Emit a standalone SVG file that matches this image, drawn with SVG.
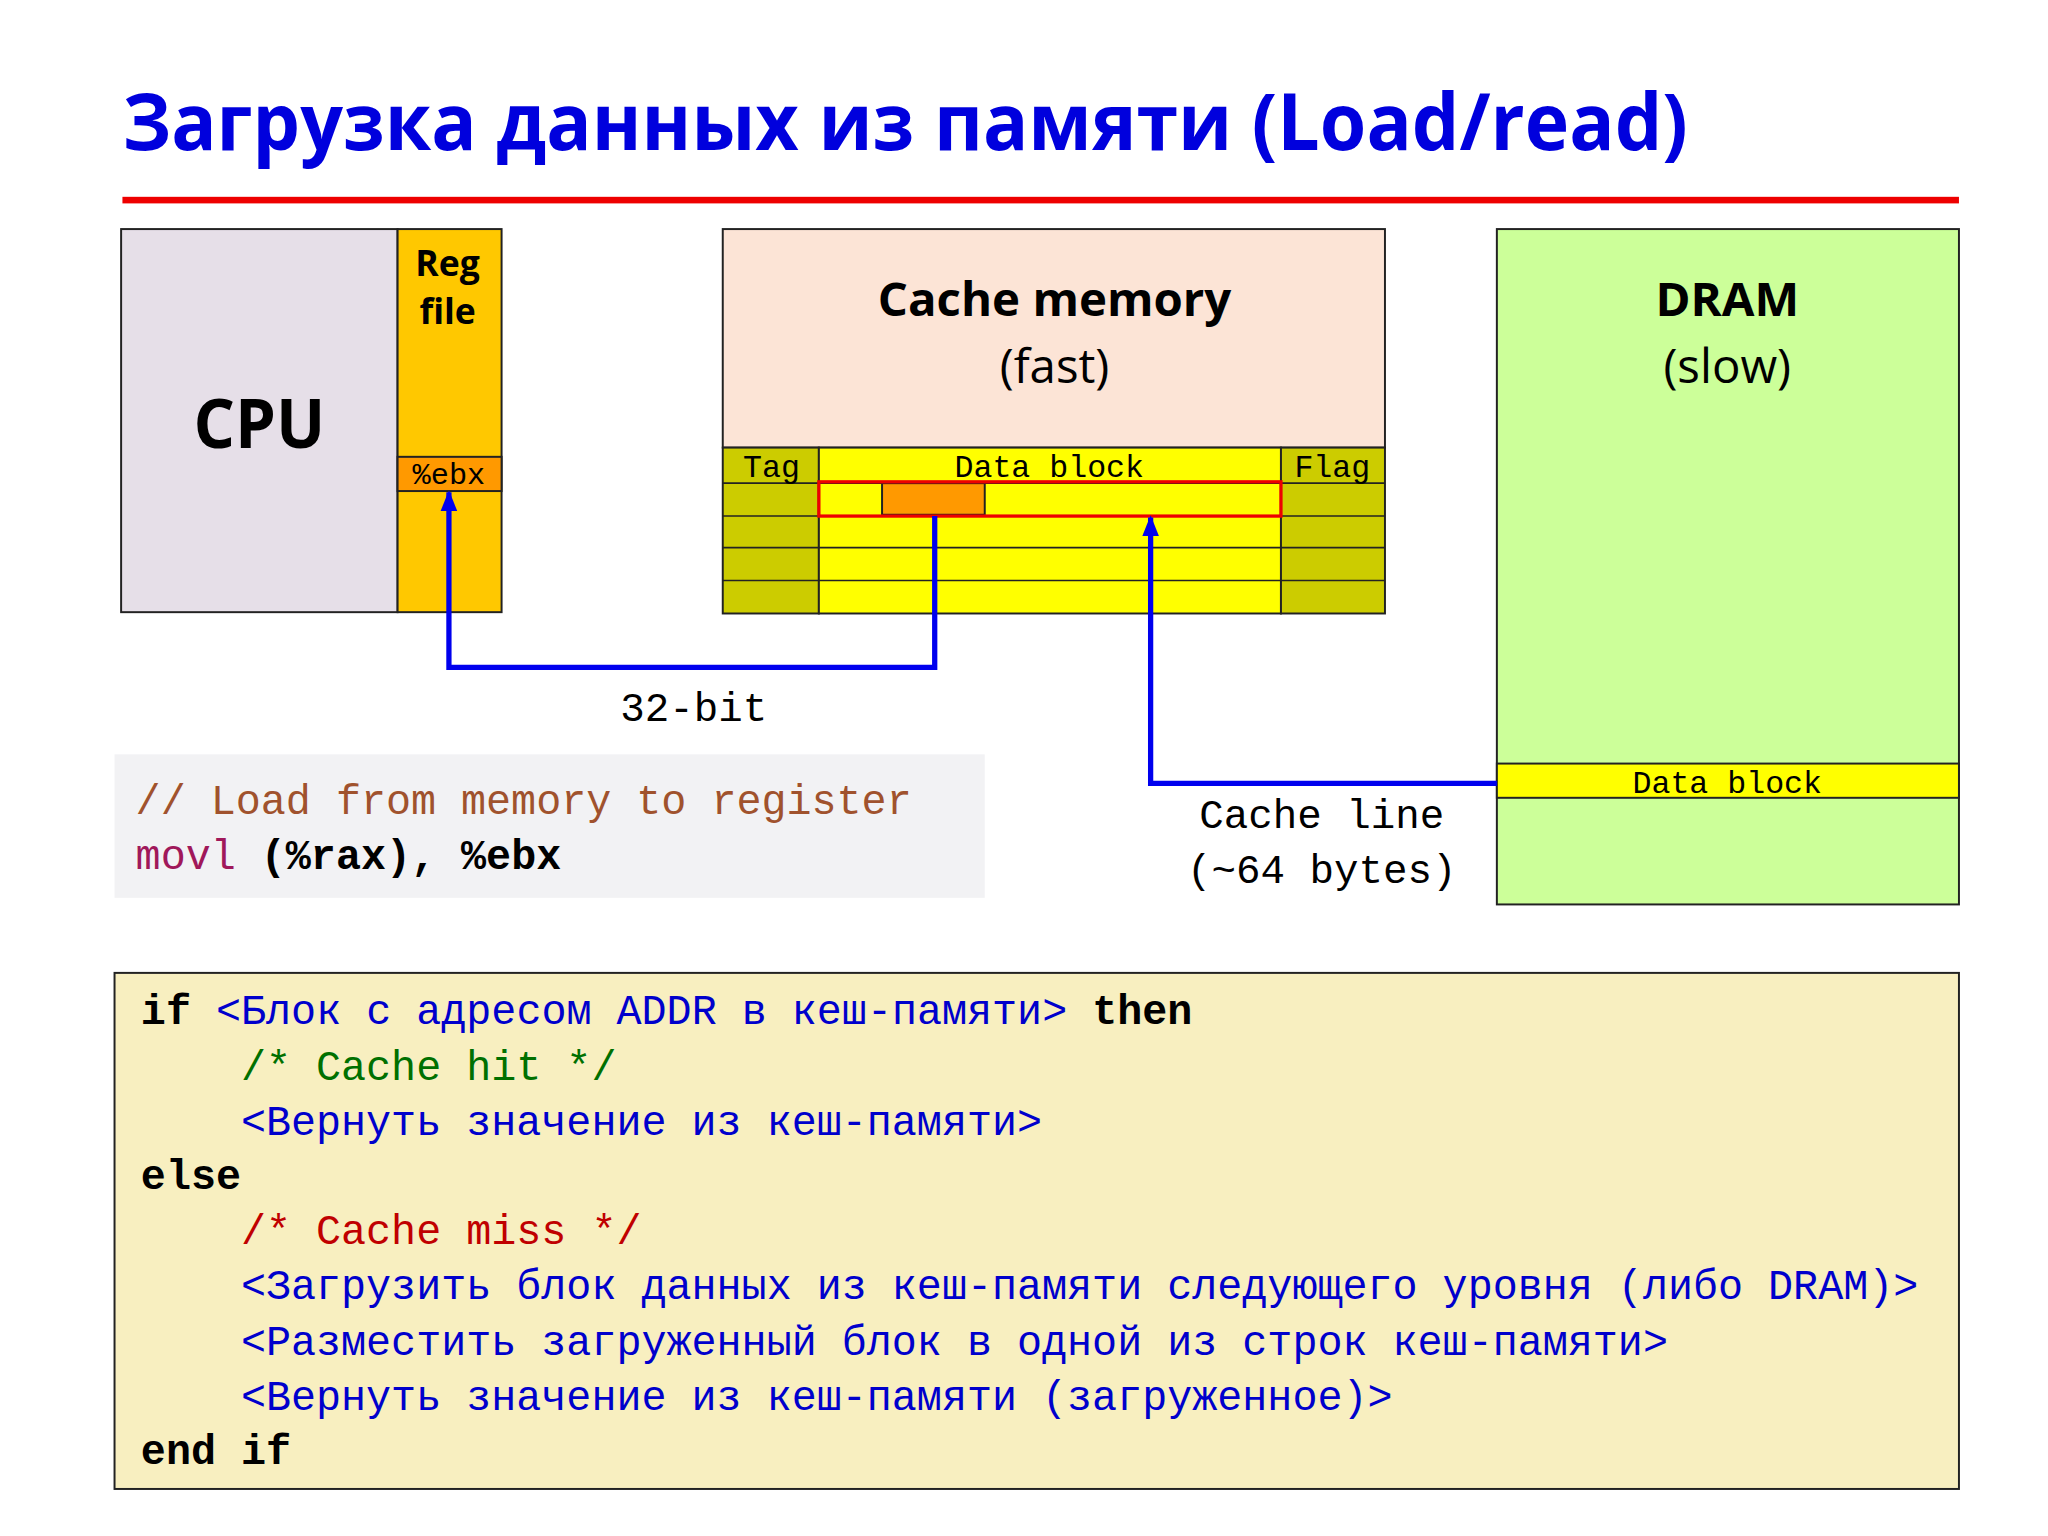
<svg xmlns="http://www.w3.org/2000/svg" width="2048" height="1536" viewBox="0 0 2048 1536">
<defs>
<marker id="ah" viewBox="0 0 10 10" refX="9" refY="5" markerWidth="4" markerHeight="4" orient="auto" markerUnits="strokeWidth"><path d="M0,1 L10,5 L0,9 z" fill="#0000ee"/></marker>
<style>
.m{font-family:"Liberation Mono","DejaVu Sans Mono",monospace}
.s{font-family:"Open Sans","Noto Sans",sans-serif}
.b{font-weight:bold}
.bx{stroke:#222;stroke-width:1.5}
.ln{stroke:#222;stroke-width:1.2}
.ar{fill:none;stroke:#0000ee;stroke-width:4;marker-end:url(#ah)}
</style>
</defs>
<rect width="2048" height="1536" fill="#fff"/>
<g transform="scale(1.3165)">
<text x="93" y="114" class="s b" font-size="60" fill="#0000dd" textLength="1189" lengthAdjust="spacingAndGlyphs">Загрузка данных из памяти (Load/read)</text>
<rect x="93" y="149.5" width="1395" height="5" fill="#ee0000"/>
<g id="cpu">
<rect x="92" y="174" width="210" height="291" fill="#e6dfe8" class="bx"/>
<text x="197" y="340" class="s b" font-size="52" text-anchor="middle" textLength="100" lengthAdjust="spacingAndGlyphs">CPU</text>
</g>
<g id="regfile">
<rect x="302" y="174" width="79" height="291" fill="#ffc800" class="bx"/>
<rect x="302" y="347" width="79" height="26" fill="#ff9900" class="bx"/>
<text x="340" y="210" class="s b" font-size="27" text-anchor="middle">Reg</text>
<text x="340" y="246" class="s b" font-size="27" text-anchor="middle">file</text>
<text x="341" y="368" class="m" font-size="23" text-anchor="middle">%ebx</text>
</g>
<g id="cache">
<rect x="549" y="174" width="503" height="166" fill="#fce4d6" class="bx"/>
<rect x="549" y="340" width="73" height="126" fill="#cccc00" class="bx"/>
<rect x="622" y="340" width="351" height="126" fill="#ffff00" class="bx"/>
<rect x="973" y="340" width="79" height="126" fill="#cccc00" class="bx"/>
<path class="ln" d="M549,367H1052M549,392H1052M549,416H1052M549,441H1052"/>
<rect x="670" y="367" width="78" height="24" fill="#ff9900" class="bx"/>
<rect x="622" y="366" width="351" height="26" fill="none" stroke="#ee0000" stroke-width="2.5"/>
<text x="801" y="240" class="s b" font-size="36" text-anchor="middle">Cache memory</text>
<text x="801" y="291" class="s" font-size="36" text-anchor="middle">(fast)</text>
<text x="586" y="362" class="m" font-size="24" text-anchor="middle">Tag</text>
<text x="797" y="362" class="m" font-size="24" text-anchor="middle">Data block</text>
<text x="1012" y="362" class="m" font-size="24" text-anchor="middle">Flag</text>
</g>
<g id="dram">
<rect x="1137" y="174" width="351" height="513" fill="#ccff99" class="bx"/>
<rect x="1137" y="580" width="351" height="26" fill="#ffff00" class="bx"/>
<text x="1312" y="240" class="s b" font-size="36" text-anchor="middle">DRAM</text>
<text x="1312" y="291" class="s" font-size="36" text-anchor="middle">(slow)</text>
<text x="1312" y="602" class="m" font-size="24" text-anchor="middle">Data block</text>
</g>
<g id="connectors">
<path class="ar" d="M710,392V507H341V374"/>
<path class="ar" d="M1137,595H874V393"/>
<text x="527" y="548" class="m" font-size="31" text-anchor="middle">32-bit</text>
<text x="1004" y="629" class="m" font-size="31" text-anchor="middle">Cache line</text>
<text x="1004" y="671" class="m" font-size="31" text-anchor="middle">(~64 bytes)</text>
</g>
<g id="code">
<rect x="87" y="573" width="661" height="109" fill="#f2f2f4"/>
<text x="103" y="618" class="m" font-size="31.7" fill="#a0522d">// Load from memory to register</text>
<text x="103" y="660" class="m b" font-size="31.7"><tspan fill="#a0185a" font-weight="normal">movl</tspan> (%rax), %ebx</text>
</g>
<g id="pseudo" class="m" font-size="31.7">
<rect x="87" y="739" width="1401" height="392" fill="#f8efc0" class="bx"/>
<text x="107" y="778"><tspan class="b">if</tspan> <tspan fill="#0000cc">&lt;Блок с адресом ADDR в кеш-памяти&gt;</tspan> <tspan class="b">then</tspan></text>
<text x="183" y="820" fill="#007000">/* Cache hit */</text>
<text x="183" y="862" fill="#0000cc">&lt;Вернуть значение из кеш-памяти&gt;</text>
<text x="107" y="903" class="b">else</text>
<text x="183" y="945" fill="#c00000">/* Cache miss */</text>
<text x="183" y="987" fill="#0000cc">&lt;Загрузить блок данных из кеш-памяти следующего уровня (либо DRAM)&gt;</text>
<text x="183" y="1029" fill="#0000cc">&lt;Разместить загруженный блок в одной из строк кеш-памяти&gt;</text>
<text x="183" y="1071" fill="#0000cc">&lt;Вернуть значение из кеш-памяти (загруженное)&gt;</text>
<text x="107" y="1112" class="b">end if</text>
</g>
</g>
</svg>
